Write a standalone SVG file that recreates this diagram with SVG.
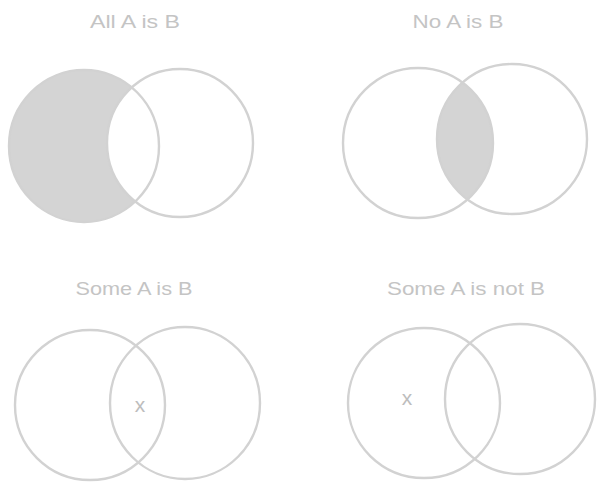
<svg xmlns="http://www.w3.org/2000/svg" width="603" height="489" viewBox="0 0 603 489">
<style>
.lbl{font-family:"Liberation Sans","DejaVu Sans",sans-serif;font-size:19px;fill:#c4c4c4;text-anchor:middle}
.mk{font-family:"Liberation Sans","DejaVu Sans",sans-serif;font-size:21px;fill:#bdbdbd;text-anchor:middle}
.ring{fill:none;stroke:#d2d2d2;stroke-width:2.4}
.shade{fill:#d4d4d4;stroke:none}
</style>
<defs>
<clipPath id="clipA2"><ellipse cx="418" cy="143" rx="75" ry="75"/></clipPath>
</defs>
<rect width="603" height="489" fill="#ffffff"/>
<g id="all-a-is-b">
<text class="lbl" x="135" y="28" textLength="90" lengthAdjust="spacingAndGlyphs">All A is B</text>
<ellipse class="shade" cx="84" cy="146" rx="75" ry="76"/>
<ellipse cx="180" cy="143" rx="73" ry="74" fill="#ffffff"/>
<ellipse class="ring" cx="84" cy="146" rx="75" ry="76"/>
<ellipse class="ring" cx="180" cy="143" rx="73" ry="74"/>
</g>
<g id="no-a-is-b">
<text class="lbl" x="458" y="28" textLength="91" lengthAdjust="spacingAndGlyphs">No A is B</text>
<ellipse class="shade" cx="512" cy="139" rx="75" ry="75" clip-path="url(#clipA2)"/>
<ellipse class="ring" cx="418" cy="143" rx="75" ry="75"/>
<ellipse class="ring" cx="512" cy="139" rx="75" ry="75"/>
</g>
<g id="some-a-is-b">
<text class="lbl" x="134" y="295" textLength="117" lengthAdjust="spacingAndGlyphs">Some A is B</text>
<ellipse class="ring" cx="90" cy="405" rx="75" ry="75"/>
<ellipse class="ring" cx="185" cy="403" rx="75" ry="76"/>
<text class="mk" x="140" y="412">x</text>
</g>
<g id="some-a-is-not-b">
<text class="lbl" x="466" y="295" textLength="158" lengthAdjust="spacingAndGlyphs">Some A is not B</text>
<ellipse class="ring" cx="424" cy="403" rx="76" ry="75"/>
<ellipse class="ring" cx="520" cy="399" rx="75" ry="75"/>
<text class="mk" x="407" y="405">x</text>
</g>
<g id="connectors"></g>
</svg>
